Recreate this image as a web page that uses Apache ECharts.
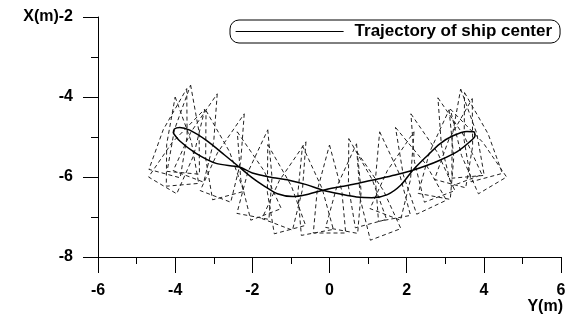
<!DOCTYPE html>
<html><head><meta charset="utf-8">
<script src="https://cdn.jsdelivr.net/npm/echarts@6/dist/echarts.min.js"></script>
<style>html,body{margin:0;padding:0;background:#fff}#c{width:573px;height:320px}</style>
</head><body><div id="c"></div>
<script>
// Trajectory of ship center (Y(m) horizontal, X(m) vertical)
const trajX = [-4.05,-4.02,-3.88,-3.62,-3.20,-2.72,-2.34,-2.00,-1.70,-1.35,-0.95,-0.55,-0.17,0.30,0.73,1.20,1.70,2.16,2.50,2.86,3.30,3.62,3.77,3.74,3.56,3.20,2.86,2.50,2.16,1.85,1.50,1.10,0.70,0.30,-0.17,-0.60,-1.05,-1.56,-2.00,-2.34,-2.94,-3.46,-3.88,-4.05];
const trajY = [-4.90,-4.80,-4.76,-4.83,-5.08,-5.45,-5.75,-6.02,-6.22,-6.42,-6.49,-6.43,-6.33,-6.24,-6.16,-6.06,-5.95,-5.83,-5.72,-5.58,-5.37,-5.13,-4.97,-4.87,-4.86,-4.97,-5.17,-5.50,-5.83,-6.20,-6.44,-6.52,-6.50,-6.43,-6.33,-6.19,-6.08,-6.00,-5.90,-5.75,-5.66,-5.41,-5.10,-4.90];

// Ship outlines (dashed), vertices: bow, shoulder, stern, stern, shoulder
const shipOutlines = [
  [[-3.70,-3.79],[-3.69,-4.98],[-3.87,-6.02],[-4.68,-5.81],[-4.31,-4.82]],
  [[-3.60,-3.70],[-3.38,-4.88],[-3.37,-5.93],[-4.21,-5.86],[-4.02,-4.82]],
  [[-4.00,-4.00],[-3.58,-5.12],[-3.39,-6.16],[-4.23,-6.23],[-4.22,-5.18]],
  [[-2.91,-3.92],[-3.00,-5.11],[-3.26,-6.13],[-4.05,-5.84],[-3.60,-4.89]],
  [[-3.20,-4.34],[-2.59,-5.37],[-2.22,-6.36],[-3.03,-6.57],[-3.21,-5.53]],
  [[-2.21,-4.42],[-2.30,-5.61],[-2.56,-6.63],[-3.35,-6.34],[-2.90,-5.39]],
  [[-2.39,-4.87],[-1.70,-5.84],[-1.25,-6.79],[-2.04,-7.08],[-2.30,-6.06]],
  [[-1.60,-4.82],[-1.49,-6.01],[-1.57,-7.06],[-2.40,-6.91],[-2.12,-5.89]],
  [[-1.60,-5.19],[-0.99,-6.22],[-0.62,-7.21],[-1.43,-7.42],[-1.61,-6.38]],
  [[-0.61,-5.12],[-0.70,-6.31],[-0.96,-7.33],[-1.75,-7.04],[-1.30,-6.09]],
  [[-0.70,-5.22],[-0.19,-6.29],[0.10,-7.31],[-0.73,-7.46],[-0.82,-6.41]],
  [[0.00,-5.20],[0.32,-6.35],[0.42,-7.40],[-0.42,-7.40],[-0.32,-6.35]],
  [[0.70,-5.17],[0.82,-6.36],[0.73,-7.41],[-0.10,-7.26],[0.19,-6.24]],
  [[0.50,-5.04],[1.11,-6.07],[1.48,-7.06],[0.67,-7.27],[0.49,-6.23]],
  [[0.71,-5.37],[1.40,-6.34],[1.85,-7.29],[1.06,-7.58],[0.80,-6.56]],
  [[1.30,-4.87],[1.82,-5.94],[2.10,-6.96],[1.27,-7.11],[1.19,-6.06]],
  [[2.19,-4.87],[2.10,-6.06],[1.84,-7.08],[1.05,-6.79],[1.50,-5.84]],
  [[1.71,-4.76],[2.49,-5.67],[3.03,-6.58],[2.26,-6.93],[1.91,-5.94]],
  [[2.11,-4.42],[2.80,-5.39],[3.25,-6.34],[2.46,-6.63],[2.20,-5.61]],
  [[3.10,-4.32],[3.22,-5.51],[3.13,-6.56],[2.30,-6.41],[2.59,-5.39]],
  [[2.81,-4.02],[3.50,-4.99],[3.95,-5.94],[3.16,-6.23],[2.90,-5.21]],
  [[3.40,-3.80],[3.82,-4.92],[4.01,-5.96],[3.17,-6.03],[3.18,-4.98]],
  [[3.50,-3.89],[4.11,-4.92],[4.48,-5.91],[3.67,-6.12],[3.49,-5.08]],
  [[3.70,-4.04],[3.71,-5.23],[3.53,-6.27],[2.72,-6.06],[3.09,-5.07]],
  [[3.13,-4.30],[3.98,-5.14],[4.59,-6.00],[3.86,-6.42],[3.42,-5.46]],
  [[-3.23,-4.30],[-3.52,-5.46],[-3.96,-6.42],[-4.69,-6.00],[-4.08,-5.14]]
];

const seriesName = 'Trajectory of ship center';
const xAxisName = 'Y(m)';
const yAxisName = 'X(m)';
const xRange = [-6, 6], xStep = 2;
const yRange = [-8, -2], yStep = 2;

const chart = echarts.init(document.getElementById('c'), null, {renderer: 'canvas'});
const fam = '"Liberation Sans", Arial, sans-serif';
const labelFont = {fontFamily: fam, fontWeight: 'bold', fontSize: 16, color: '#000'};

const series = shipOutlines.map((poly, i) => ({
  type: 'line', name: 'ship' + i, data: poly.concat([poly[0]]),
  symbol: 'none', silent: true, animation: false, z: 1,
  lineStyle: {color: '#222', width: 1, type: [4, 3]}
}));
series.push({
  type: 'line', name: seriesName, data: trajX.map((x, i) => [x, trajY[i]]),
  symbol: 'none', smooth: 0.3, animation: false, z: 3,
  itemStyle: {color: '#000'},
  lineStyle: {color: '#000', width: 1.5}
});

chart.setOption({
  backgroundColor: '#fff',
  animation: false,
  grid: {left: 98, right: 12, top: 17, bottom: 63, containLabel: false, outerBoundsMode: 'none'},
  legend: {
    data: [seriesName], left: 230, top: 20, padding: [3, 8, 3, 5],
    itemWidth: 108, itemHeight: 14, borderColor: '#000', borderWidth: 1, borderRadius: 9,
    itemStyle: {opacity: 0},
    lineStyle: {color: '#000', width: 1.2},
    textStyle: {fontFamily: fam, fontWeight: 'bold', fontSize: 17, color: '#000', padding: [0, 0, 0, 6]}
  },
  graphic: [{
    type: 'text', right: 10, top: 299, silent: true,
    style: {text: xAxisName, font: 'bold 16px "Liberation Sans", Arial, sans-serif', fill: '#000'}
  }],
  xAxis: {
    type: 'value', min: xRange[0], max: xRange[1], interval: xStep,
    axisLine: {onZero: false, lineStyle: {color: '#000', width: 1}},
    axisTick: {inside: false, length: 16, lineStyle: {color: '#000', width: 1}},
    minorTick: {show: true, splitNumber: 2, length: 7, lineStyle: {color: '#000', width: 1}},
    splitLine: {show: false},
    axisLabel: Object.assign({}, labelFont, {margin: 26})
  },
  yAxis: {
    type: 'value', min: yRange[0], max: yRange[1], interval: yStep,
    axisLine: {onZero: false, lineStyle: {color: '#000', width: 1}},
    axisTick: {inside: false, length: 15, lineStyle: {color: '#000', width: 1}},
    minorTick: {show: true, splitNumber: 2, length: 7, lineStyle: {color: '#000', width: 1}},
    splitLine: {show: false},
    axisLabel: Object.assign({}, labelFont, {margin: 25, formatter: v => (v === yRange[1] ? yAxisName + v : String(v))})
  },
  series: series
});
</script></body></html>
